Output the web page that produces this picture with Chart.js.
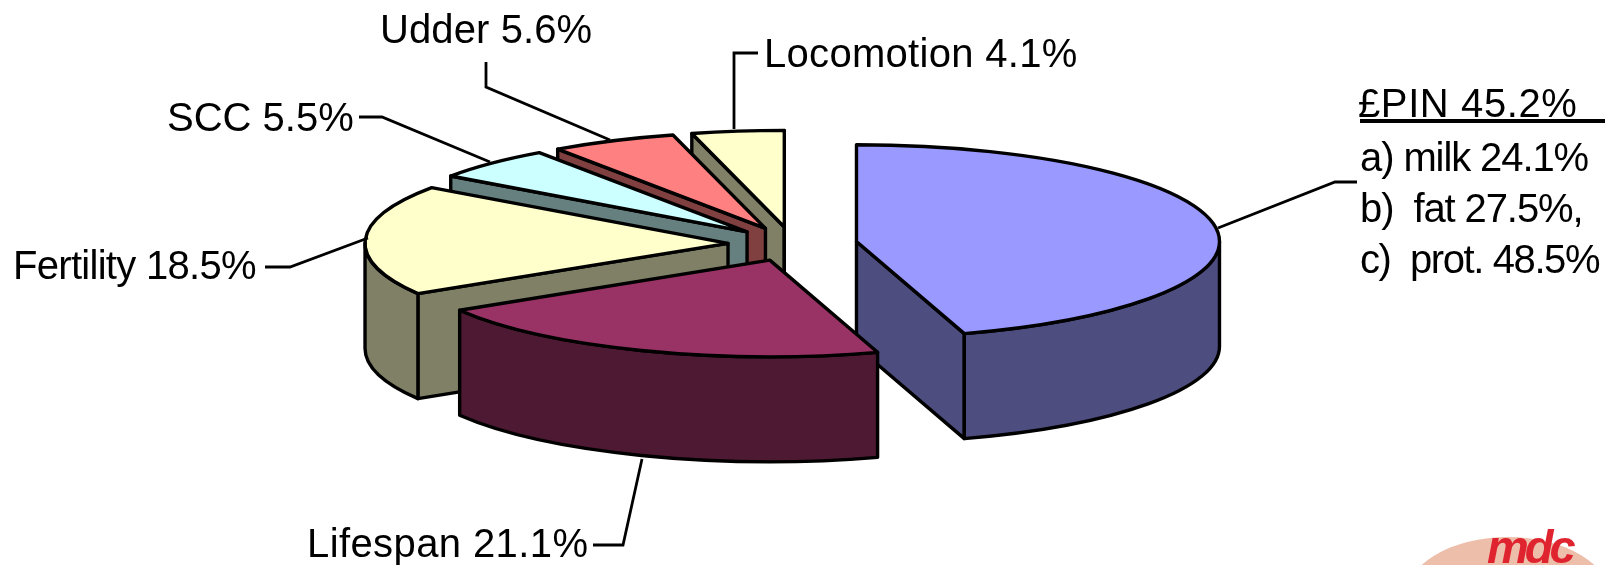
<!DOCTYPE html>
<html><head><meta charset="utf-8">
<style>html,body{margin:0;padding:0;background:#fff;overflow:hidden}#wrap{position:relative;width:1612px;height:565px}</style>
<script src="https://cdn.jsdelivr.net/npm/chart.js@4"></script>
</head><body><div id="wrap"><canvas id="c" width="1612" height="565"></canvas></div>
<script>
// ---- data ----
const categories = ['£PIN', 'Lifespan', 'Fertility', 'SCC', 'Udder', 'Locomotion'];
const shares = [45.2, 21.1, 18.5, 5.5, 5.6, 4.1];
const pinBreakdown = ['a) milk 24.1%', 'b)  fat 27.5%,', 'c)  prot. 48.5%'];
// ---- style ----
const topColors = ['#9999FF', '#993366', '#FFFFCC', '#CCFFFF', '#FF8080', '#FFFFCC'];
const sideColors = ['#4D4D80', '#4D1933', '#808066', '#668080', '#804040', '#808066'];
const paintOrder = [5, 4, 3, 2, 0, 1];
const pie = {cx: 792.6, cy: 244, rx: 363, ry: 96.6, depth: 105, explode: 0.178, line: 3.4};
const FONT = '40px "Liberation Sans", Arial, sans-serif';
const labelPos = [
  {x: 1358, y: 117, sp: 0.6, leader: [[1357,182],[1335,182],[1218,228]]},
  {x: 307, y: 557, sp: 0.4, leader: [[593,545],[623,545],[642,459]]},
  {x: 13, y: 279, sp: -0.7, leader: [[265,267],[290,267],[368,238]]},
  {x: 167, y: 131, sp: 0, leader: [[359,117],[382,117],[490,162]]},
  {x: 380, y: 43, sp: 0.1, leader: [[486,62],[486,87],[610,140]]},
  {x: 764, y: 67, sp: 0.3, leader: [[758,53],[734,53],[734,129]]}
];
const breakdownPos = {x: 1360, ys: [171, 222, 273], sp: [-1.1, -1.1, -1.4], underline: [1360, 1605, 121]};

const pie3d = {
  id: 'pie3d',
  beforeDatasetDraw(chart, args) {
    const ctx = chart.ctx;
    const arcs = chart.getDatasetMeta(args.index).data;
    for (const i of paintOrder) {
      const el = arcs[i];
      const a0 = el.startAngle, a1 = el.endAngle, mid = (a0 + a1) / 2;
      const ox = pie.cx + pie.explode * Math.cos(mid) * pie.rx;
      const oy = pie.cy + pie.explode * Math.sin(mid) * pie.ry;
      const rim = t => [ox + Math.cos(t) * pie.rx, oy + Math.sin(t) * pie.ry];
      ctx.save();
      ctx.lineWidth = pie.line; ctx.lineJoin = 'round'; ctx.strokeStyle = '#000';
      ctx.fillStyle = sideColors[i];
      const wall = t => {
        const p = rim(t);
        ctx.beginPath(); ctx.moveTo(ox, oy); ctx.lineTo(p[0], p[1]);
        ctx.lineTo(p[0], p[1] + pie.depth); ctx.lineTo(ox, oy + pie.depth); ctx.closePath();
        ctx.fill(); ctx.stroke();
      };
      if (Math.cos(a0) < 0) wall(a0);
      if (Math.cos(a1) > 0) wall(a1);
      // outer band: visible part of rim is the lower half of the ellipse
      const ranges = [[0, Math.PI], [2 * Math.PI, 3 * Math.PI], [-2 * Math.PI, -Math.PI]];
      for (const [lo, hi] of ranges) {
        const s = Math.max(a0, lo), e = Math.min(a1, hi);
        if (e > s) {
          ctx.beginPath();
          ctx.ellipse(ox, oy, pie.rx, pie.ry, 0, s, e);
          ctx.ellipse(ox, oy + pie.depth, pie.rx, pie.ry, 0, e, s, true);
          ctx.closePath(); ctx.fill(); ctx.stroke();
        }
      }
      ctx.restore();
      // top face: the library's own arc, flattened
      const R = el.outerRadius;
      ctx.save();
      ctx.translate(ox, oy);
      ctx.scale(pie.rx / R, pie.ry / R);
      ctx.translate(-el.x, -el.y);
      el.draw(ctx);
      ctx.restore();
      // outline in screen space so the pen stays even
      ctx.save();
      ctx.lineWidth = pie.line; ctx.lineJoin = 'round'; ctx.strokeStyle = '#000';
      ctx.beginPath(); ctx.moveTo(ox, oy);
      ctx.ellipse(ox, oy, pie.rx, pie.ry, 0, a0, a1);
      ctx.closePath(); ctx.stroke();
      ctx.restore();
    }
    return false;
  },
  afterDraw(chart) {
    const ctx = chart.ctx;
    ctx.save();
    // logo
    ctx.fillStyle = '#EDBFAB';
    ctx.beginPath(); ctx.ellipse(1508, 600, 104, 63, 0, 0, Math.PI * 2); ctx.fill();
    ctx.fillStyle = '#E0242F';
    ctx.font = 'italic bold 47px "Liberation Sans", Arial, sans-serif';
    ctx.letterSpacing = '-4px';
    ctx.textBaseline = 'alphabetic';
    ctx.fillText('mdc', 1487, 563);
    ctx.letterSpacing = '0px';
    // leaders
    ctx.strokeStyle = '#000'; ctx.lineWidth = 2.8; ctx.lineJoin = 'miter';
    for (const p of labelPos) {
      ctx.beginPath();
      p.leader.forEach((q, j) => j ? ctx.lineTo(q[0], q[1]) : ctx.moveTo(q[0], q[1]));
      ctx.stroke();
    }
    // labels
    ctx.fillStyle = '#000'; ctx.font = FONT;
    categories.forEach((c, i) => {
      ctx.letterSpacing = labelPos[i].sp + 'px';
      ctx.fillText(c + ' ' + shares[i].toFixed(1) + '%', labelPos[i].x, labelPos[i].y);
    });
    pinBreakdown.forEach((t, i) => {
      ctx.letterSpacing = breakdownPos.sp[i] + 'px';
      ctx.fillText(t, breakdownPos.x, breakdownPos.ys[i]);
    });
    ctx.letterSpacing = '0px';
    const u = breakdownPos.underline;
    ctx.lineWidth = 4; ctx.beginPath(); ctx.moveTo(u[0], u[2]); ctx.lineTo(u[1], u[2]); ctx.stroke();
    ctx.restore();
  }
};

new Chart(document.getElementById('c'), {
  type: 'pie',
  data: {labels: categories, datasets: [{data: shares, backgroundColor: topColors, borderWidth: 0, offset: 0, hoverOffset: 0}]},
  options: {
    responsive: false, animation: false, events: [],
    plugins: {legend: {display: false}, tooltip: {enabled: false}}
  },
  plugins: [pie3d]
});
</script></body></html>
